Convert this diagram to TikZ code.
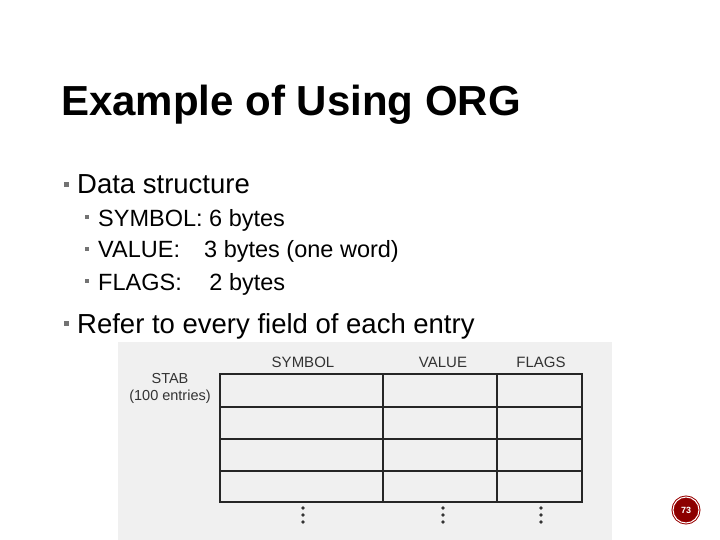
\documentclass[tikz,border=0pt]{standalone}
\usepackage{fontspec}
\setmainfont{Liberation Sans}
\usetikzlibrary{positioning}
\begin{document}
\begin{tikzpicture}[x=1pt,y=-1pt,
    lvlone/.style={anchor=base west, font=\fontsize{27.5}{30}\selectfont, inner sep=0pt},
    lvltwo/.style={anchor=base west, font=\fontsize{23.5}{26}\selectfont, inner sep=0pt},
    hdr/.style={font=\fontsize{15}{17}\selectfont, text=black!80},
    grid/.style={line width=1.1pt, black!85},
    vdots/.style={fill=black!80, circle, inner sep=1.3pt}
  ]
  \useasboundingbox (0,0) rectangle (720,540);
  % scanned background
  \fill[black!6] (118,342) rectangle (612,540);

  % title and bullets
  \node[anchor=base west, font=\bfseries\fontsize{42}{46}\selectfont, inner sep=0pt] (title) at (61,116) {Example of Using ORG};
  \node[lvlone] (data) at (77,194) {Data structure};
  \node[lvltwo] (sym) at (98,226) {SYMBOL: 6 bytes};
  \node[lvltwo] (val) at (98,258) {VALUE:\hspace{0.75em} 3 bytes (one word)};
  \node[lvltwo] (flg) at (98,290) {FLAGS:\hspace{0.9em} 2 bytes};
  \node[lvlone] (refer) at (77,333) {Refer to every field of each entry};
  \foreach \n/\s in {data/5, refer/5, sym/4, val/4, flg/4}
    \fill[black!55] ([xshift=-13pt,yshift=7pt]\n.base west) rectangle ++(\s,-\s);

  % table
  \draw[grid] (220,374) rectangle (582,502);
  \foreach \y in {407,439,471} \draw[grid] (220,\y) -- (582,\y);
  \foreach \x in {383,497} \draw[grid] (\x,374) -- (\x,502);
  \node[hdr] (hsym) at (303,362) {SYMBOL};
  \node[hdr] (hval) at (443,362) {VALUE};
  \node[hdr] (hflg) at (541,362) {FLAGS};
  \node[hdr, align=center, font=\fontsize{14.5}{17}\selectfont] (stab) at (170,388) {STAB\\(100 entries)};
  \foreach \x in {303,443,541}
    \foreach \y in {508,515,522} \node[vdots] at (\x,\y) {};

  % page badge
  \node[circle, fill=red!55!black, draw=red!60!black, line width=1pt, double=white, double distance=1pt,
        minimum size=26pt, text=white, font=\bfseries\fontsize{9}{10}\selectfont] (page) at (686,510) {73};
\end{tikzpicture}
\end{document}
